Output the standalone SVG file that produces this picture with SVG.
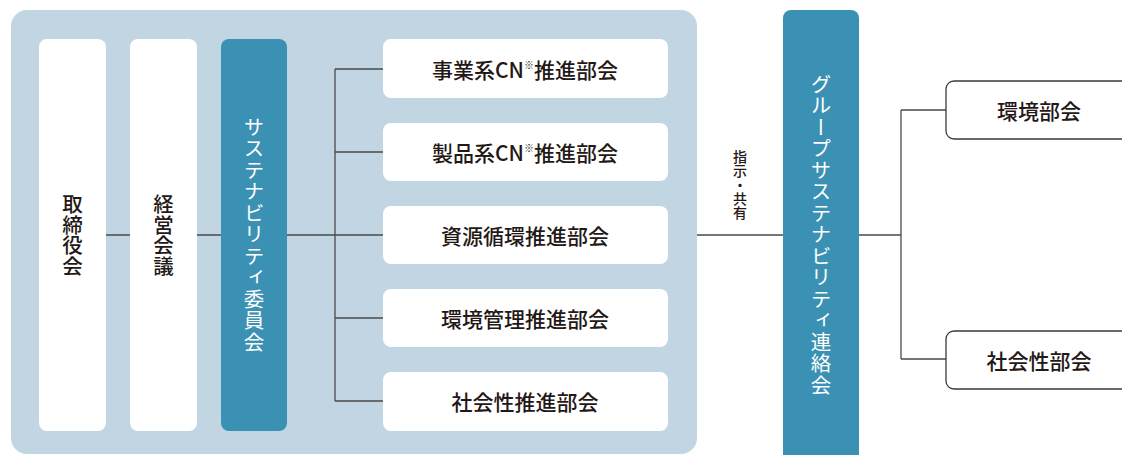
<svg xmlns="http://www.w3.org/2000/svg" width="1122" height="455" viewBox="0 0 1122 455">
<style>
.t{font-family:"Noto Sans CJK JP","Noto Sans",sans-serif;font-size:20.5px;font-weight:500;fill:#231815;}
.h{font-size:21px;text-anchor:middle;dominant-baseline:central;}
.v{writing-mode:vertical-rl;text-anchor:middle;dominant-baseline:central;}
.w{fill:#ffffff;font-weight:400;}
.s{font-size:14px;}
.box{fill:#ffffff;}
.teal{fill:#3b91b3;}
.ob{fill:#ffffff;stroke:#3a3a3a;stroke-width:1.3;}
.ln{stroke:#4a4a4a;stroke-width:1.3;fill:none;}
</style>
<rect id="bg" x="11" y="10" width="686" height="444" rx="16" fill="#c2d5e3"/>
<g id="connectors">
<path class="ln" d="M106 235H130M197 235H221M287 235H383M335 69V401M335 69H383M335 152H383M335 318H383M335 401H383M697 235H783M859 235H901M901 110V359M901 110H946M901 359H946"/>
</g>
<g id="torishimariyakukai"><rect class="box" x="39" y="39" width="67" height="392" rx="8"/><text class="t v" x="72.5" y="235">取締役会</text></g>
<g id="keieikaigi"><rect class="box" x="130" y="39" width="67" height="392" rx="8"/><text class="t v" x="163.5" y="235">経営会議</text></g>
<g id="iinkai"><rect class="teal" x="221" y="39" width="66" height="392" rx="8"/><text class="t v w" x="254" y="235" letter-spacing="1">サステナビリティ委員会</text></g>
<g id="b1"><rect class="box" x="383" y="39" width="285" height="59" rx="8"/><text class="t h" x="525" y="69">事業系CN<tspan font-size="10" dy="-5">※</tspan><tspan dy="5">推進部会</tspan></text></g>
<g id="b2"><rect class="box" x="383" y="123" width="285" height="58" rx="8"/><text class="t h" x="525" y="152">製品系CN<tspan font-size="10" dy="-5">※</tspan><tspan dy="5">推進部会</tspan></text></g>
<g id="b3"><rect class="box" x="383" y="206" width="285" height="58" rx="8"/><text class="t h" x="525" y="235">資源循環推進部会</text></g>
<g id="b4"><rect class="box" x="383" y="289" width="285" height="58" rx="8"/><text class="t h" x="525" y="318">環境管理推進部会</text></g>
<g id="b5"><rect class="box" x="383" y="372" width="285" height="59" rx="8"/><text class="t h" x="525" y="401">社会性推進部会</text></g>
<g id="label"><text class="t v s" x="740" y="185">指示・共有</text></g>
<g id="group"><rect class="teal" x="783" y="10" width="76" height="470" rx="8"/><text class="t v w" x="821" y="235" letter-spacing="1">グループサステナビリティ連絡会</text></g>
<g id="kankyo"><rect class="ob" x="946" y="81" width="190" height="58" rx="8"/><text class="t h" x="1039" y="110">環境部会</text></g>
<g id="shakai"><rect class="ob" x="946" y="331" width="190" height="58" rx="8"/><text class="t h" x="1039" y="360">社会性部会</text></g>
</svg>
